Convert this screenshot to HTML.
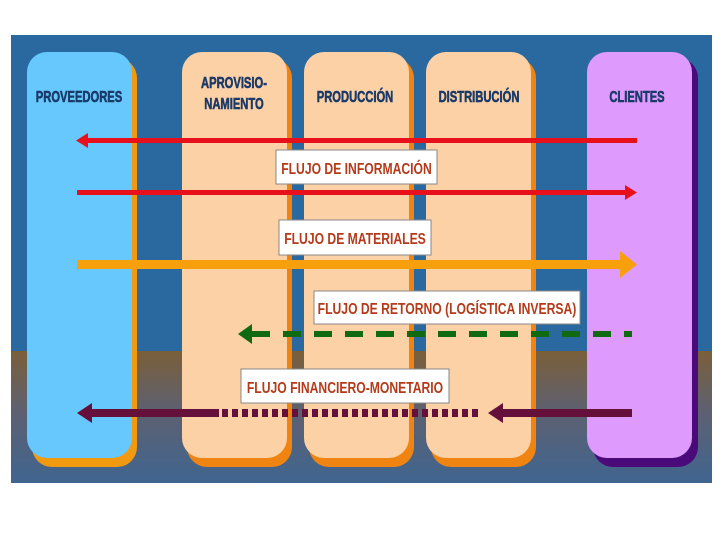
<!DOCTYPE html>
<html><head><meta charset="utf-8"><style>
html,body{margin:0;padding:0;background:#fff;width:720px;height:540px;overflow:hidden}
text{font-family:"Liberation Sans",sans-serif;font-weight:bold}
</style></head><body>
<svg width="720" height="540" viewBox="0 0 720 540" xmlns="http://www.w3.org/2000/svg">
<defs>
<linearGradient id="bot" x1="0" y1="0" x2="0" y2="1">
<stop offset="0" stop-color="#7a5f3a"/><stop offset="0.45" stop-color="#5e6070"/><stop offset="1" stop-color="#3f6590"/>
</linearGradient>
</defs>
<rect x="11" y="35" width="701" height="448" fill="#2a68a0"/>
<rect x="11" y="351" width="701" height="132" fill="url(#bot)"/>
<rect x="32" y="58" width="105" height="409" rx="20" fill="#f29a0f"/>
<rect x="187" y="58" width="105" height="409" rx="20" fill="#f08412"/>
<rect x="309" y="58" width="105" height="409" rx="20" fill="#f08412"/>
<rect x="431" y="58" width="105" height="409" rx="20" fill="#f08412"/>
<rect x="593" y="58" width="105" height="409" rx="20" fill="#4a0a7a"/>
<rect x="27" y="52" width="105" height="406" rx="20" fill="#66c8fd"/>
<rect x="182" y="52" width="105" height="406" rx="20" fill="#fdd1a6"/>
<rect x="304" y="52" width="105" height="406" rx="20" fill="#fdd1a6"/>
<rect x="426" y="52" width="105" height="406" rx="20" fill="#fdd1a6"/>
<rect x="587" y="52" width="105" height="406" rx="20" fill="#de9afc"/>
<g fill="#1a3a68" font-size="16" text-anchor="middle" stroke="#1a3a68" stroke-width="0.6">
<text x="79" y="102" transform="translate(79 0) scale(0.7 1) translate(-79 0)">PROVEEDORES</text>
<text x="234" y="88" transform="translate(234 0) scale(0.7 1) translate(-234 0)">APROVISIO-</text>
<text x="234" y="109" transform="translate(234 0) scale(0.7 1) translate(-234 0)">NAMIENTO</text>
<text x="355" y="102" transform="translate(355 0) scale(0.7 1) translate(-355 0)">PRODUCCIÓN</text>
<text x="479" y="102" transform="translate(479 0) scale(0.7 1) translate(-479 0)">DISTRIBUCIÓN</text>
<text x="637" y="102" transform="translate(637 0) scale(0.7 1) translate(-637 0)">CLIENTES</text>
</g>
<rect x="86" y="138" width="551" height="5" fill="#e8101a"/>
<polygon points="76,140.5 88,133 88,148" fill="#e8101a"/>
<rect x="77" y="190" width="550" height="5" fill="#e8101a"/>
<polygon points="637,192.5 625,185 625,200" fill="#e8101a"/>
<rect x="77" y="260" width="546" height="9" fill="#f7a00c"/>
<polygon points="637,264.5 620,251 620,278" fill="#f7a00c"/>
<line x1="252" y1="334" x2="632" y2="334" stroke="#0f6a12" stroke-width="6" stroke-dasharray="18 13"/>
<polygon points="238,334 252,324 252,344" fill="#0f6a12"/>
<rect x="90" y="409" width="129" height="8" fill="#64103a"/>
<polygon points="77,413 92,403 92,423" fill="#64103a"/>
<line x1="222" y1="413" x2="478" y2="413" stroke="#64103a" stroke-width="8" stroke-dasharray="6 4"/>
<rect x="500" y="409" width="132" height="8" fill="#64103a"/>
<polygon points="488,413 503,403 503,423" fill="#64103a"/>
<g stroke="#888" stroke-width="1" fill="#fff">
<rect x="276" y="150" width="161" height="34"/>
<rect x="279" y="220" width="152" height="35"/>
<rect x="314" y="291" width="266" height="33"/>
<rect x="241" y="369" width="208" height="34"/>
</g>
<g fill="#b53a1a" font-size="16" text-anchor="middle">
<text x="356.5" y="174" transform="translate(356.5 0) scale(0.76 1) translate(-356.5 0)">FLUJO DE INFORMACIÓN</text>
<text x="355" y="244" transform="translate(355 0) scale(0.76 1) translate(-355 0)">FLUJO DE MATERIALES</text>
<text x="447" y="314" transform="translate(447 0) scale(0.76 1) translate(-447 0)">FLUJO DE RETORNO (LOGÍSTICA INVERSA)</text>
<text x="345" y="393" transform="translate(345 0) scale(0.76 1) translate(-345 0)">FLUJO FINANCIERO-MONETARIO</text>
</g>
</svg>
</body></html>
